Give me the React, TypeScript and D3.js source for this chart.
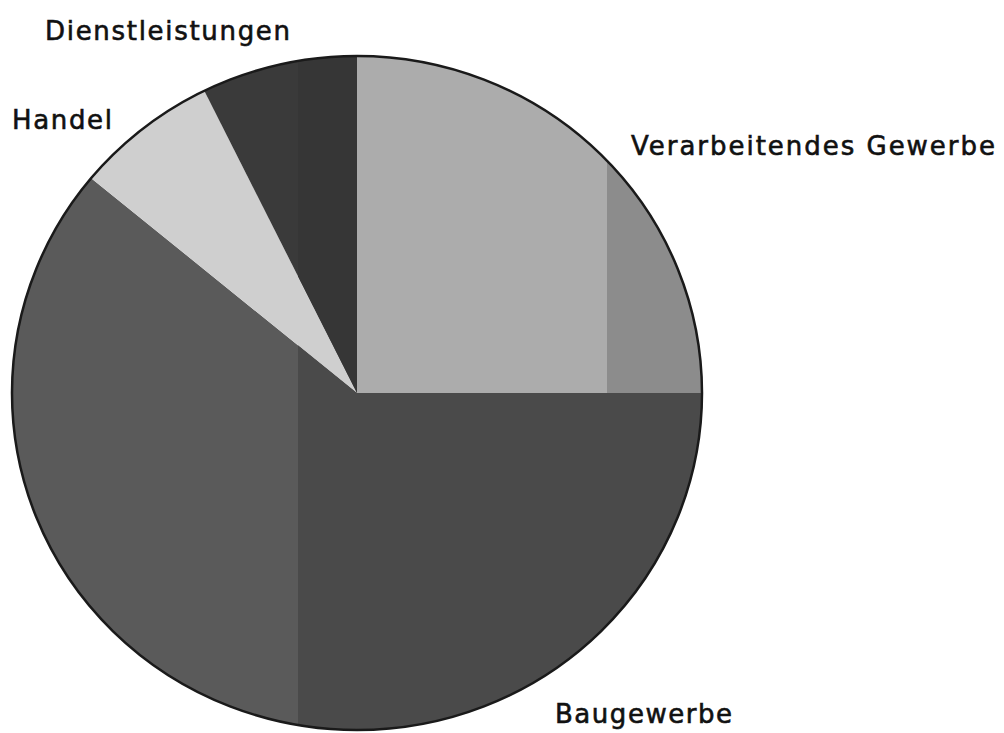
import React from "react";
import * as d3 from "d3";

const categories = ["Verarbeitendes Gewerbe", "Baugewerbe", "Handel", "Dienstleistungen"];
const values = [25.0, 61.0, 6.7, 7.3];
const baseFills = ["#acacac", "#5a5a5a", "#cfcfcf", "#3a3a3a"];
const bandFills = ["#8c8c8c", "#4a4a4a", "#cfcfcf", "#363636"];

const W = 1004;
const H = 733;
const cx = 357;
const cy = 393;
const rx = 345;
const ry = 337;

const labelLayout = [
  { x: 631, y: 155, len: 364 },
  { x: 555, y: 723, len: 177 },
  { x: 12, y: 129, len: 100 },
  { x: 45, y: 40, len: 245 },
];

export default function App() {
  const pie = d3.pie<number>().sort(null).value((d) => d);
  const arcs = pie(values);
  const arcGen = d3.arc<d3.PieArcDatum<number>>().innerRadius(0).outerRadius(rx);
  const sy = ry / rx;
  const bandA = 298;
  const bandB = 607;
  const pieT = `translate(${cx},${cy}) scale(1,${sy})`;
  return (
    <svg
      width={W}
      height={H}
      style={{ position: "absolute", left: 0, top: 0, background: "#fff" }}
      fontFamily="'DejaVu Sans', sans-serif"
    >
      <defs>
        <clipPath id="bandRight">
          <rect x={bandB} y={0} width={W - bandB} height={H} />
        </clipPath>
        <clipPath id="bandMidRight">
          <rect x={bandA} y={0} width={W - bandA} height={H} />
        </clipPath>
        <clipPath id="bandMid">
          <rect x={bandA} y={0} width={bandB - bandA} height={H} />
        </clipPath>
      </defs>
      <g transform={pieT}>
        {arcs.map((a, i) => (
          <path key={"b" + i} d={arcGen(a) || ""} fill={baseFills[i]} />
        ))}
      </g>
      <g clipPath="url(#bandRight)">
        <g transform={pieT}>
          <path d={arcGen(arcs[0]) || ""} fill={bandFills[0]} />
        </g>
      </g>
      <g clipPath="url(#bandMidRight)">
        <g transform={pieT}>
          <path d={arcGen(arcs[1]) || ""} fill={bandFills[1]} />
        </g>
      </g>
      <g clipPath="url(#bandMid)">
        <g transform={pieT}>
          <path d={arcGen(arcs[3]) || ""} fill={bandFills[3]} />
        </g>
      </g>
      <ellipse cx={cx} cy={cy} rx={rx} ry={ry} fill="none" stroke="#1a1a1a" strokeWidth={2.5} />
      {categories.map((c, i) => (
        <text
          key={c}
          x={labelLayout[i].x}
          y={labelLayout[i].y}
          fontSize={26}
          fill="#111"
          stroke="#111"
          strokeWidth={0.6}
          textLength={labelLayout[i].len}
          lengthAdjust="spacing"
        >
          {c}
        </text>
      ))}
    </svg>
  );
}
